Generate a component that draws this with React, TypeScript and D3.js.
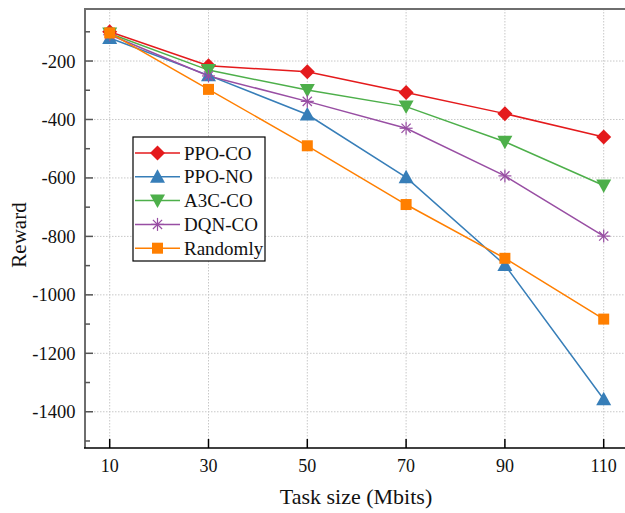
import React from "react";
import * as d3 from "d3";

const taskSizes = [10, 30, 50, 70, 90, 110];
const seriesNames = ["PPO-CO", "PPO-NO", "A3C-CO", "DQN-CO", "Randomly"];
const ppoCO = [-100, -216, -237, -308, -380, -460];
const ppoNO = [-121, -249, -383, -598, -898, -1357];
const a3cCO = [-106, -231, -299, -356, -476, -626];
const dqnCO = [-110, -251, -338, -430, -593, -799];
const randomly = [-104, -297, -490, -691, -875, -1083];
const yMajorTicks = [-200, -400, -600, -800, -1000, -1200, -1400];
const yMinorTicks = [-100, -300, -500, -700, -900, -1100, -1300, -1500];

const colors = ["#e41a1c", "#377eb8", "#4daf4a", "#984ea3", "#ff7f00"];
const markers = ["diamond", "triUp", "triDown", "star", "square"];
const allSeries = [ppoCO, ppoNO, a3cCO, dqnCO, randomly];

const W = 625, H = 513;
const L = 85, R = 628.4, T = 9, B = 448;
const FONT = "'Liberation Serif', 'Times New Roman', serif";

function Marker({ type, x, y, color }: { type: string; x: number; y: number; color: string }) {
  if (type === "diamond") {
    const s = 7.5;
    return <path d={`M${x},${y - s}L${x + s},${y}L${x},${y + s}L${x - s},${y}Z`} fill={color} />;
  }
  if (type === "triUp") {
    const s = 7.5;
    return <path d={`M${x},${y - s}L${x + s},${y + s * 0.8}L${x - s},${y + s * 0.8}Z`} fill={color} />;
  }
  if (type === "triDown") {
    const s = 7.5;
    return <path d={`M${x},${y + s}L${x + s},${y - s * 0.8}L${x - s},${y - s * 0.8}Z`} fill={color} />;
  }
  if (type === "square") {
    const s = 5.5;
    return <rect x={x - s} y={y - s} width={2 * s} height={2 * s} fill={color} />;
  }
  const s = 6.5;
  const d = s * 0.7071;
  return (
    <g stroke={color} strokeWidth={1.2}>
      <line x1={x - s} y1={y} x2={x + s} y2={y} />
      <line x1={x} y1={y - s} x2={x} y2={y + s} />
      <line x1={x - d} y1={y - d} x2={x + d} y2={y + d} />
      <line x1={x - d} y1={y + d} x2={x + d} y2={y - d} />
    </g>
  );
}

export default function App() {
  const x = d3.scaleLinear().domain([5, 115]).range([L, R]);
  const y = d3.scaleLinear().domain([-1524, -22]).range([B, T]);
  const line = d3
    .line<number>()
    .x((_, i) => x(taskSizes[i]))
    .y((d) => y(d));

  const legX = 133, legY = 137, legW = 132, legH = 124;
  const rowY = (i: number) => legY + 16 + i * 23.8;

  return (
    <svg width={W} height={H} style={{ position: "absolute", left: 0, top: 0, background: "#fff" }} fontFamily={FONT}>
      <rect width={W} height={H} fill="#fff" />
      <g stroke="#c8c8c8" strokeWidth={1} strokeDasharray="1.5,1.5">
        {yMajorTicks.map((t) => (
          <line key={"gy" + t} x1={L} x2={W} y1={y(t)} y2={y(t)} />
        ))}
        {taskSizes.map((t) => (
          <line key={"gx" + t} x1={x(t)} x2={x(t)} y1={T} y2={B} />
        ))}
      </g>
      <line x1={L} x2={W} y1={T} y2={T} stroke="#6e6e6e" strokeWidth={2} />
      <line x1={L} x2={L} y1={T - 1} y2={B} stroke="#6e6e6e" strokeWidth={2} />
      <line x1={L - 1} x2={W} y1={B} y2={B} stroke="#000" strokeWidth={1.6} />
      {yMajorTicks.map((t) => (
        <g key={"ty" + t}>
          <line x1={L} x2={L + 8} y1={y(t)} y2={y(t)} stroke="#555" strokeWidth={1.5} />
          <text x={75.5} y={y(t)} dy="0.35em" textAnchor="end" fontSize={18.5} fill="#111">
            {t}
          </text>
        </g>
      ))}
      {yMinorTicks.map((t) => (
        <line key={"my" + t} x1={L} x2={L + 5} y1={y(t)} y2={y(t)} stroke="#555" strokeWidth={1.5} />
      ))}
      {taskSizes.map((t) => (
        <g key={"tx" + t}>
          <line x1={x(t)} x2={x(t)} y1={B} y2={B - 9} stroke="#000" strokeWidth={1.5} />
          <text x={x(t)} y={471.5} textAnchor="middle" fontSize={18} fill="#111">
            {t}
          </text>
        </g>
      ))}
      <text x={356} y={504} textAnchor="middle" fontSize={22} fill="#111">
        Task size (Mbits)
      </text>
      <text transform="translate(26,235) rotate(-90)" textAnchor="middle" fontSize={21} fill="#111">
        Reward
      </text>
      {allSeries.map((s, si) => (
        <path key={"l" + si} d={line(s) || ""} fill="none" stroke={colors[si]} strokeWidth={1.5} />
      ))}
      {allSeries.map((s, si) => (
        <g key={"m" + si}>
          {s.map((v, i) => (
            <Marker key={i} type={markers[si]} x={x(taskSizes[i])} y={y(v)} color={colors[si]} />
          ))}
        </g>
      ))}
      <rect x={legX} y={legY} width={legW} height={legH} fill="#fff" stroke="#000" strokeWidth={1.2} />
      {seriesNames.map((n, i) => (
        <g key={"lg" + n}>
          <line x1={135} x2={180} y1={rowY(i)} y2={rowY(i)} stroke={colors[i]} strokeWidth={1.5} />
          <Marker type={markers[i]} x={157.5} y={rowY(i)} color={colors[i]} />
          <text x={184} y={rowY(i)} dy="0.35em" fontSize={19} fill="#111">
            {n}
          </text>
        </g>
      ))}
    </svg>
  );
}
